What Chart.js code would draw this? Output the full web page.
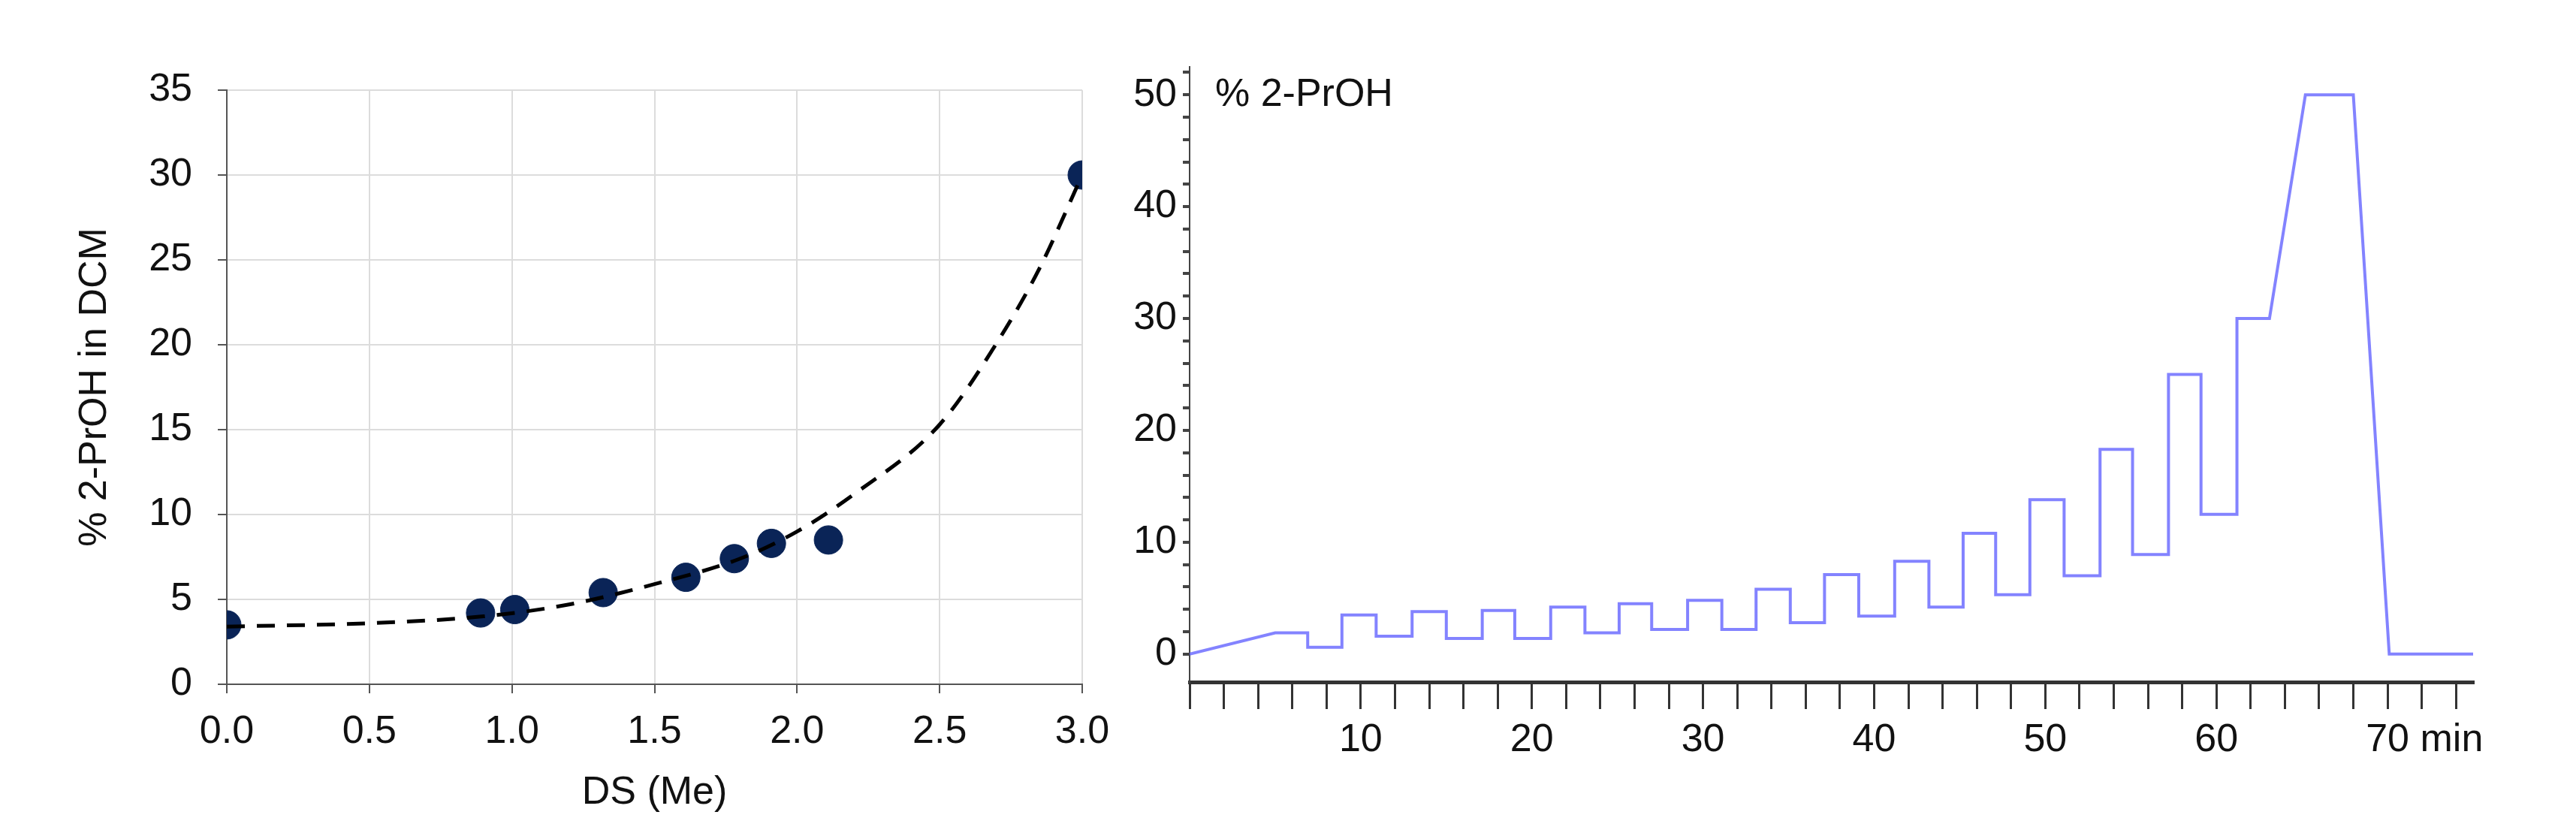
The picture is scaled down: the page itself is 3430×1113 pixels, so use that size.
<!DOCTYPE html>
<html>
<head>
<meta charset="utf-8">
<script src="https://cdn.jsdelivr.net/npm/chart.js@4/dist/chart.umd.min.js"></script>
<style>
  html, body { margin: 0; padding: 0; background: #fff; }
  #wrap { position: relative; width: 3430px; height: 1113px; }
  #left { position: absolute; left: 0; top: 0; }
  #right { position: absolute; left: 1450px; top: 0; }
</style>
</head>
<body>
<div id="wrap">
  <canvas id="left" width="1560" height="1113"></canvas>
  <canvas id="right" width="1980" height="1113"></canvas>
</div>
<script>
// left panel: measured points and the dashed fit curve
const dsValues = [0, 0.89, 1.01, 1.32, 1.61, 1.78, 1.91, 2.11, 3.0];
const proh = [3.5, 4.2, 4.4, 5.4, 6.3, 7.4, 8.3, 8.5, 30];
const fitX = [0, 0.5, 0.9, 1.2, 1.5, 1.8, 2.0, 2.2, 2.5, 2.7, 2.85, 3.0];
const fitY = [3.4, 3.6, 4.0, 4.7, 5.9, 7.4, 9.0, 11.2, 15.3, 20.1, 24.5, 30];

// right panel: gradient program (min, % 2-PrOH)
const gradTime = [0, 5, 6.9, 6.9, 8.9, 8.9, 10.9, 10.9, 13.0, 13.0, 15.0, 15.0, 17.1, 17.1, 19.0, 19.0,
  21.1, 21.1, 23.1, 23.1, 25.1, 25.1, 27.0, 27.0, 29.1, 29.1, 31.1, 31.1, 33.1, 33.1, 35.1, 35.1,
  37.1, 37.1, 39.1, 39.1, 41.2, 41.2, 43.2, 43.2, 45.2, 45.2, 47.1, 47.1, 49.1, 49.1, 51.1, 51.1,
  53.2, 53.2, 55.1, 55.1, 57.2, 57.2, 59.1, 59.1, 61.2, 61.2, 63.1, 65.2, 68.0, 70.1, 75];
const gradPct = [0, 1.9, 1.9, 0.6, 0.6, 3.5, 3.5, 1.6, 1.6, 3.8, 3.8, 1.4, 1.4, 3.9, 3.9, 1.4,
  1.4, 4.2, 4.2, 1.9, 1.9, 4.5, 4.5, 2.2, 2.2, 4.8, 4.8, 2.2, 2.2, 5.8, 5.8, 2.8,
  2.8, 7.1, 7.1, 3.4, 3.4, 8.3, 8.3, 4.2, 4.2, 10.8, 10.8, 5.3, 5.3, 13.8, 13.8, 7.0,
  7.0, 18.3, 18.3, 8.9, 8.9, 25.0, 25.0, 12.5, 12.5, 30.0, 30.0, 50, 50, 0, 0];

const rightYTicks = [0, 2, 4, 6, 8, 10, 12, 14, 16, 18, 20, 22, 24, 26, 28, 30, 32, 34, 36, 38, 40, 42, 44, 46, 48, 50, 52];
const rightXTicks = [0, 2, 4, 6, 8, 10, 12, 14, 16, 18, 20, 22, 24, 26, 28, 30, 32, 34, 36, 38, 40,
  42, 44, 46, 48, 50, 52, 54, 56, 58, 60, 62, 64, 66, 68, 70, 72, 74];

const FONT = 'Liberation Sans, Arial, sans-serif';
const FS = 52;
Chart.defaults.font.family = FONT;
Chart.defaults.color = '#111';

const pts = (xs, ys) => xs.map((x, i) => ({ x, y: ys[i] }));

new Chart(document.getElementById('left'), {
  type: 'scatter',
  data: {
    datasets: [
      {
        data: pts(fitX, fitY),
        showLine: true,
        borderColor: '#000',
        borderWidth: 5,
        borderDash: [24, 16],
        cubicInterpolationMode: 'monotone',
        pointRadius: 0
      },
      {
        data: pts(dsValues, proh),
        backgroundColor: '#0a2457',
        borderColor: '#0a2457',
        pointRadius: 19
      }
    ]
  },
  options: {
    responsive: false,
    animation: false,
    layout: { padding: { left: 95, top: 120, right: 119, bottom: 26 } },
    plugins: { legend: { display: false }, tooltip: { enabled: false } },
    scales: {
      x: {
        type: 'linear', min: 0, max: 3,
        afterFit: s => { s.height = 176; },
        border: { color: '#555', width: 2 },
        grid: { color: '#dcdcdc', lineWidth: 2, tickColor: '#555', tickLength: 12 },
        ticks: { stepSize: 0.5, padding: 20, font: { size: FS }, maxRotation: 0, callback: v => v.toFixed(1) },
        title: { display: true, text: 'DS (Me)', font: { size: FS }, padding: 0 }
      },
      y: {
        min: 0, max: 35,
        afterFit: s => { s.width = 207; },
        border: { color: '#555', width: 2 },
        grid: { color: '#dcdcdc', lineWidth: 2, tickColor: '#555', tickLength: 12 },
        ticks: { stepSize: 5, padding: 34, font: { size: FS } },
        title: { display: true, text: '% 2-PrOH in DCM', font: { size: FS }, padding: 0 }
      }
    }
  }
});

const labelPlugin = {
  id: 'labels',
  afterDraw(chart) {
    const { ctx, scales } = chart;
    ctx.save();
    ctx.fillStyle = '#111';
    ctx.font = FS + 'px ' + FONT;
    ctx.textBaseline = 'middle';
    ctx.textAlign = 'left';
    ctx.fillText('% 2-PrOH', scales.x.getPixelForValue(0) + 34, scales.y.getPixelForValue(50));
    const x70 = scales.x.getPixelForValue(70);
    ctx.fillText(' min', x70 + 29, 986);
    ctx.restore();
  }
};

new Chart(document.getElementById('right'), {
  type: 'line',
  data: {
    datasets: [{
      data: pts(gradTime, gradPct),
      borderColor: 'rgba(100,100,255,0.8)',
      borderWidth: 4,
      pointRadius: 0,
      tension: 0
    }]
  },
  options: {
    responsive: false,
    animation: false,
    layout: { padding: { left: 0, top: 89, right: 137, bottom: 60 } },
    plugins: { legend: { display: false }, tooltip: { enabled: false } },
    scales: {
      x: {
        type: 'linear', min: 0, max: 75,
        afterFit: s => { s.height = 1113 - 908 - 60; },
        afterBuildTicks: s => { s.ticks = rightXTicks.map(v => ({ value: v })); },
        border: { color: '#333', width: 5 },
        grid: { drawOnChartArea: false, color: '#333', lineWidth: 3, tickLength: 36 },
        ticks: { padding: 10, font: { size: FS }, maxRotation: 0, autoSkip: false,
          callback: v => (v % 10 === 0 && v > 0) ? String(v) : '' }
      },
      y: {
        min: -2.5, max: 52.5,
        afterFit: s => { s.width = 134; },
        afterBuildTicks: s => { s.ticks = rightYTicks.map(v => ({ value: v })); },
        border: { color: '#444', width: 2 },
        grid: { drawOnChartArea: false, color: '#444', lineWidth: 4, tickLength: 9 },
        ticks: { padding: 8, font: { size: FS }, autoSkip: false,
          callback: v => v % 10 === 0 ? String(v) : '' }
      }
    }
  },
  plugins: [labelPlugin]
});
</script>
</body>
</html>
